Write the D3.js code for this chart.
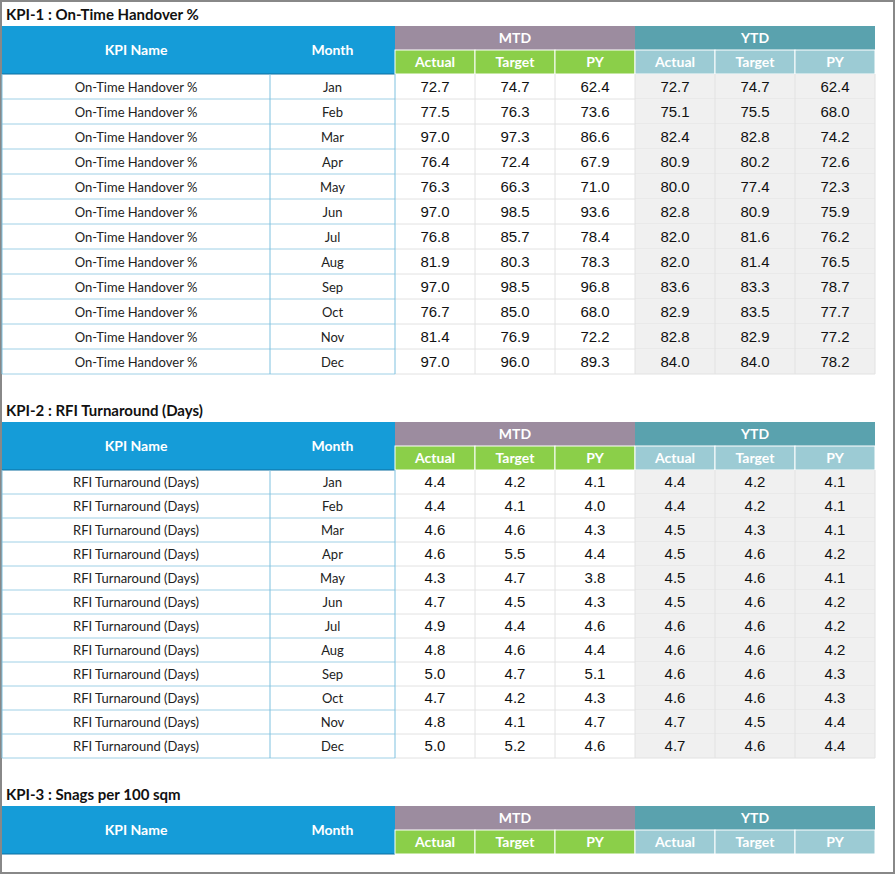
<!DOCTYPE html><html><head><meta charset="utf-8"><script src="https://cdn.jsdelivr.net/npm/d3@7"></script>
<style>body{margin:0;background:#fff}</style></head><body><svg id="c" width="896" height="875"></svg><script>
const months=["Jan","Feb","Mar","Apr","May","Jun","Jul","Aug","Sep","Oct","Nov","Dec"];
const subCols=["Actual","Target","PY"];
const kpi1Name="On-Time Handover %";
const kpi1MtdActual=[72.7,77.5,97.0,76.4,76.3,97.0,76.8,81.9,97.0,76.7,81.4,97.0];
const kpi1MtdTarget=[74.7,76.3,97.3,72.4,66.3,98.5,85.7,80.3,98.5,85.0,76.9,96.0];
const kpi1MtdPY=[62.4,73.6,86.6,67.9,71.0,93.6,78.4,78.3,96.8,68.0,72.2,89.3];
const kpi1YtdActual=[72.7,75.1,82.4,80.9,80.0,82.8,82.0,82.0,83.6,82.9,82.8,84.0];
const kpi1YtdTarget=[74.7,75.5,82.8,80.2,77.4,80.9,81.6,81.4,83.3,83.5,82.9,84.0];
const kpi1YtdPY=[62.4,68.0,74.2,72.6,72.3,75.9,76.2,76.5,78.7,77.7,77.2,78.2];
const kpi2Name="RFI Turnaround (Days)";
const kpi2MtdActual=[4.4,4.4,4.6,4.6,4.3,4.7,4.9,4.8,5.0,4.7,4.8,5.0];
const kpi2MtdTarget=[4.2,4.1,4.6,5.5,4.7,4.5,4.4,4.6,4.7,4.2,4.1,5.2];
const kpi2MtdPY=[4.1,4.0,4.3,4.4,3.8,4.3,4.6,4.4,5.1,4.3,4.7,4.6];
const kpi2YtdActual=[4.4,4.4,4.5,4.5,4.5,4.5,4.6,4.6,4.6,4.6,4.7,4.7];
const kpi2YtdTarget=[4.2,4.2,4.3,4.6,4.6,4.6,4.6,4.6,4.6,4.6,4.5,4.6];
const kpi2YtdPY=[4.1,4.1,4.1,4.2,4.1,4.2,4.2,4.2,4.3,4.3,4.4,4.4];
const tables=[
 {title:"KPI-1 : On-Time Handover %",name:kpi1Name,top:26,hh:24,rh:25,series:[kpi1MtdActual,kpi1MtdTarget,kpi1MtdPY,kpi1YtdActual,kpi1YtdTarget,kpi1YtdPY]},
 {title:"KPI-2 : RFI Turnaround (Days)",name:kpi2Name,top:422,hh:24,rh:24,series:[kpi2MtdActual,kpi2MtdTarget,kpi2MtdPY,kpi2YtdActual,kpi2YtdTarget,kpi2YtdPY]},
 {title:"KPI-3 : Snags per 100 sqm",name:"",top:806,hh:24,rh:24,series:[]}
];
const svg=d3.select("#c");
const HF="Lato, 'Open Sans', sans-serif", DF="'Liberation Sans', Arial, sans-serif";
const colX=[2,270,395,475,555,635,715,795,875];
const x=d3.scaleOrdinal().domain(d3.range(9)).range(colX);
svg.append("rect").attr("x",1).attr("y",1).attr("width",893).attr("height",872).attr("fill","none").attr("stroke","#888").attr("stroke-width",2);
tables.forEach(t=>{
 const g=svg.append("g");
 g.append("text").attr("x",6).attr("y",t.top-6).attr("font-family",HF).attr("font-weight",700).attr("font-size",15).attr("fill","#111").text(t.title);
 const h1=t.top,h2=t.top+t.hh,bodyTop=t.top+2*t.hh;
 g.append("rect").attr("x",x(0)).attr("y",h1).attr("width",x(2)-x(0)).attr("height",2*t.hh).attr("fill","#159cd8");
 g.append("line").attr("x1",x(0)).attr("x2",x(2)).attr("y1",bodyTop).attr("y2",bodyTop).attr("stroke","#0d6fa0");
 [["KPI Name",0,1],["Month",1,2]].forEach(([l,a,b])=>g.append("text").attr("x",(x(a)+x(b))/2).attr("y",h1+t.hh+5).attr("text-anchor","middle").attr("font-family",HF).attr("font-weight",700).attr("font-size",14).attr("fill","#fff").text(l));
 [["MTD",2,"#9c8c9f","#8bcf49"],["YTD",5,"#5aa2ae","#9ccbd4"]].forEach(([l,s,c1,c2])=>{
  g.append("rect").attr("x",x(s)).attr("y",h1).attr("width",x(s+3)-x(s)).attr("height",t.hh).attr("fill",c1);
  g.append("text").attr("x",(x(s)+x(s+3))/2).attr("y",h1+17).attr("text-anchor","middle").attr("font-family",HF).attr("font-weight",700).attr("font-size",14).attr("fill","#fff").text(l);
  subCols.forEach((sc,i)=>{
   g.append("rect").attr("x",x(s+i)).attr("y",h2).attr("width",x(s+i+1)-x(s+i)).attr("height",t.hh).attr("fill",c2).attr("stroke","#fff").attr("stroke-width",1);
   g.append("text").attr("x",(x(s+i)+x(s+i+1))/2).attr("y",h2+17).attr("text-anchor","middle").attr("font-family",HF).attr("font-weight",700).attr("font-size",14).attr("fill","#fff").text(sc);
  });
 });
 if(!t.series.length)return;
 const y=d3.scaleBand().domain(months).range([bodyTop,bodyTop+t.rh*months.length]);
 months.forEach((m,r)=>{
  const yy=y(m),cy=yy+y.bandwidth()/2+5;
  g.append("rect").attr("x",x(5)).attr("y",yy).attr("width",x(8)-x(5)).attr("height",y.bandwidth()).attr("fill","#f0f0f0");
  g.append("text").attr("x",(x(0)+x(1))/2).attr("y",cy).attr("text-anchor","middle").attr("font-family",HF).attr("font-size",13).attr("fill","#222").text(t.name);
  g.append("text").attr("x",(x(1)+x(2))/2).attr("y",cy).attr("text-anchor","middle").attr("font-family",HF).attr("font-size",13).attr("fill","#222").text(m);
  t.series.forEach((s,i)=>g.append("text").attr("x",(x(i+2)+x(i+3))/2).attr("y",cy).attr("text-anchor","middle").attr("font-family",DF).attr("font-size",15).attr("fill","#111").text(s[r].toFixed(1)));
  g.append("line").attr("x1",x(0)).attr("x2",x(2)).attr("y1",yy+y.bandwidth()).attr("y2",yy+y.bandwidth()).attr("stroke","#9fd0e6");
  g.append("line").attr("x1",x(2)).attr("x2",x(8)).attr("y1",yy+y.bandwidth()).attr("y2",yy+y.bandwidth()).attr("stroke","#e2e2e2");
 });
 const bot=y(months[11])+y.bandwidth();
 [0,1,2].forEach(i=>g.append("line").attr("x1",x(i)).attr("x2",x(i)).attr("y1",bodyTop).attr("y2",bot).attr("stroke","#7fc1df"));
 [3,4,5,6,7,8].forEach(i=>g.append("line").attr("x1",x(i)).attr("x2",x(i)).attr("y1",bodyTop).attr("y2",bot).attr("stroke","#e2e2e2"));
});
</script></body></html>
